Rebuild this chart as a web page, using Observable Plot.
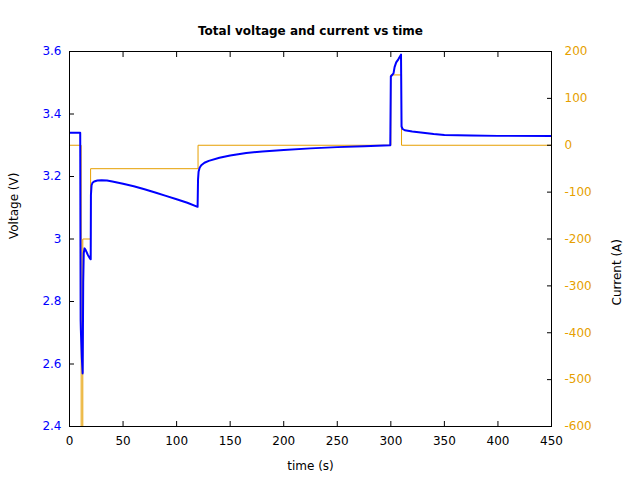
<!DOCTYPE html>
<html>
<head>
<meta charset="utf-8">
<script src="https://cdn.jsdelivr.net/npm/d3@7"></script>
<script src="https://cdn.jsdelivr.net/npm/@observablehq/plot@0.6"></script>
<style>
  body { margin: 0; background: #fff; }
</style>
</head>
<body>
<div id="chart"></div>
<script>
const title = "Total voltage and current vs time";
const xLabel = "time (s)";
const yLabel = "Voltage (V)";
const y2Label = "Current (A)";

const xTicks = [0, 50, 100, 150, 200, 250, 300, 350, 400, 450];
const vTicks = [2.4, 2.6, 2.8, 3.0, 3.2, 3.4, 3.6];
const iTicks = [-600, -500, -400, -300, -200, -100, 0, 100, 200];

// Voltage series
const vTime = [0, 10, 10.4, 10.6, 11.5, 12.3, 12.8, 13.3, 14, 15, 16, 17, 18, 19, 19.8,
  20, 20.6, 21.5, 23, 26, 30, 35, 40, 50, 60, 70, 80, 90, 100, 110, 119.6,
  120, 120.5, 121.5, 123, 126, 130, 140, 150, 165, 180, 200, 225, 250, 275, 299.5,
  300, 302.5, 303.5, 305, 307, 309.5, 310, 311, 313, 320, 330, 340, 350, 375, 400, 450];
const volts = [3.34, 3.34, 2.74, 2.71, 2.62, 2.57, 2.86, 2.955, 2.97, 2.965, 2.958, 2.95, 2.944, 2.938, 2.935,
  3.14, 3.172, 3.18, 3.184, 3.187, 3.188, 3.187, 3.184, 3.177, 3.169, 3.159, 3.149, 3.138, 3.127, 3.116, 3.103,
  3.19, 3.215, 3.228, 3.236, 3.244, 3.25, 3.26, 3.267, 3.275, 3.28, 3.285, 3.29, 3.294, 3.297, 3.30,
  3.52, 3.53, 3.55, 3.565, 3.575, 3.59, 3.36, 3.352, 3.348, 3.344, 3.34, 3.336, 3.333, 3.331, 3.33, 3.33];

// Current series (step-after)
const iTime = [0, 10.9, 12.4, 19.7, 120, 300, 310, 450];
const amps = [0, -700, -200, -50, 0, 150, 0, 0];

const blue = "#0000ff";
const orange = "#e69f00";

// map current onto the voltage scale
const vDomain = [2.4, 3.6];
const iDomain = [-600, 200];
const toV = i => vDomain[0] + (i - iDomain[0]) / (iDomain[1] - iDomain[0]) * (vDomain[1] - vDomain[0]);
const toI = v => iDomain[0] + (v - vDomain[0]) / (vDomain[1] - vDomain[0]) * (iDomain[1] - iDomain[0]);

const vData = vTime.map((t, k) => ({t, v: volts[k]}));
const iData = iTime.map((t, k) => ({t, i: amps[k]}));

const chart = Plot.plot({
  width: 640,
  height: 480,
  marginLeft: 69,
  marginRight: 89,
  marginTop: 51,
  marginBottom: 54,
  style: {fontFamily: "DejaVu Sans", fontSize: "12px", background: "#fff", color: "black"},
  x: {domain: [0, 450]},
  y: {domain: vDomain},
  marks: [
    Plot.line(iData, {x: "t", y: d => toV(d.i), curve: "step-after", stroke: orange, strokeWidth: 1, clip: true}),
    Plot.line(vData, {x: "t", y: "v", stroke: blue, strokeWidth: 2, clip: true}),
    Plot.frame({stroke: "black", strokeWidth: 1}),
    Plot.axisX(xTicks, {anchor: "bottom", tickSize: -5, tickPadding: 15, label: null, stroke: "black", fill: "black", tickFormat: d => String(d)}),
    Plot.axisX(xTicks, {anchor: "top", tickSize: -5, label: null, stroke: "black", tickFormat: () => ""}),
    Plot.axisY(vTicks, {anchor: "left", tickSize: -5, tickPadding: 13, label: null, stroke: "black", fill: blue, tickFormat: d => String(+d.toFixed(1))}),
    Plot.axisY(iTicks.map(toV), {anchor: "right", tickSize: -5, tickPadding: 18, label: null, stroke: "black", fill: orange, tickFormat: v => String(Math.round(toI(v)))}),
    Plot.text([title], {frameAnchor: "top", dy: -25, fontWeight: "bold", fontSize: 12, fill: "black"}),
    Plot.text([xLabel], {frameAnchor: "bottom", dy: 43, fontSize: 12, fill: "black"}),
    Plot.text([yLabel], {frameAnchor: "left", dx: -55, rotate: -90, fontSize: 12, fill: "black"}),
    Plot.text([y2Label], {frameAnchor: "right", dx: 66, rotate: -90, fontSize: 12, fill: "black"})
  ]
});
document.getElementById("chart").appendChild(chart);
</script>
</body>
</html>
